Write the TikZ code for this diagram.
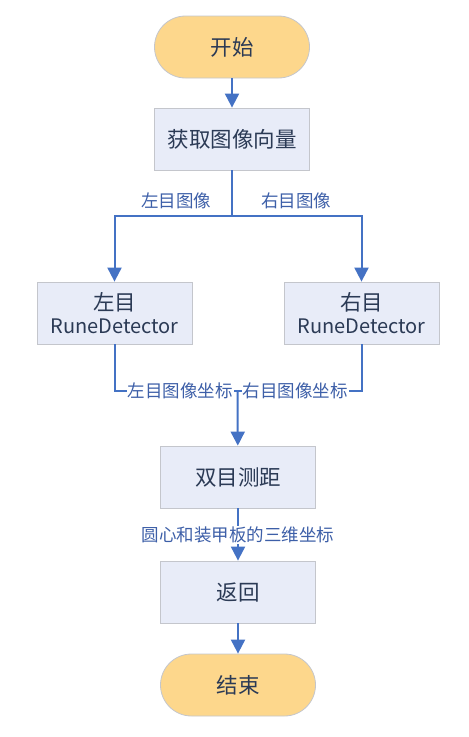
\documentclass[tikz,border=0pt]{standalone}
\usepackage{fontspec}
\setmainfont{Noto Sans CJK SC}
\usepackage{tikz}
\usetikzlibrary{arrows.meta,calc}
\usetikzlibrary{positioning}

\definecolor{termfill}{HTML}{FDD78C}
\definecolor{boxfill}{HTML}{E8ECF8}
\definecolor{edgegray}{HTML}{C4C6CC}
\definecolor{flowblue}{HTML}{4472C4}
\definecolor{labelblue}{HTML}{3D5FA8}
\definecolor{textnavy}{HTML}{2B3A55}

\begin{document}
\begin{tikzpicture}[x=1pt,y=-1pt]
\tikzstyle{term}=[rectangle,rounded corners=31pt,draw=edgegray,fill=termfill,line width=0.8pt,minimum width=155pt,minimum height=62pt,inner sep=0pt,text=textnavy,font=\fontsize{21.5}{25}\selectfont]
\tikzstyle{proc}=[rectangle,draw=edgegray,fill=boxfill,line width=0.8pt,minimum width=155pt,minimum height=62pt,inner sep=0pt,text=textnavy,font=\fontsize{21.5}{25}\selectfont,align=center]
\tikzstyle{flow}=[draw=flowblue,line width=2pt]
\tikzstyle{arrow}=[flow,-{Triangle[width=14pt,length=14pt]}]
\tikzstyle{lbl}=[text=labelblue,font=\fontsize{17.5}{21}\selectfont,inner sep=1pt]
\useasboundingbox (0,0) rectangle (469,737);

\node[term] (start) at (232,47) {开始};
\node[proc] (getimg) at (232,139) {获取图像向量};
\node[proc] (left) at (114.5,313) {左目\\[-2pt]{\fontsize{20}{24}\selectfont RuneDetector}};
\node[proc] (right) at (361.5,313) {右目\\[-2pt]{\fontsize{20}{24}\selectfont RuneDetector}};
\node[proc] (ranging) at (238,477) {双目测距};
\node[proc] (ret) at (238,592) {返回};
\node[term] (stop) at (238,685) {结束};
\coordinate (split) at (232,216);
\coordinate (merge) at (237.5,391);

\draw[arrow] (start) -- (getimg);
\draw[flow] (getimg) -- (split);
\draw[arrow] (split) -| (left);
\draw[arrow] (split) -| (right);
\node[lbl] (limg) at (176,201) {左目图像};
\node[lbl] (rimg) at (296,201) {右目图像};

\draw[flow] (left) |- (merge);
\draw[flow] (right) |- (merge);
\draw[arrow] (merge) -- (ranging);
\node[lbl,fill=white] (lcoord) at (180,391) {左目图像坐标};
\node[lbl,fill=white] (rcoord) at (295,391) {右目图像坐标};

\draw[arrow] (ranging) -- (ret) node[lbl,fill=white,midway,yshift=-0.5pt] (pos3d) {圆心和装甲板的三维坐标};
\draw[arrow] (ret) -- (stop);
\end{tikzpicture}
\end{document}
